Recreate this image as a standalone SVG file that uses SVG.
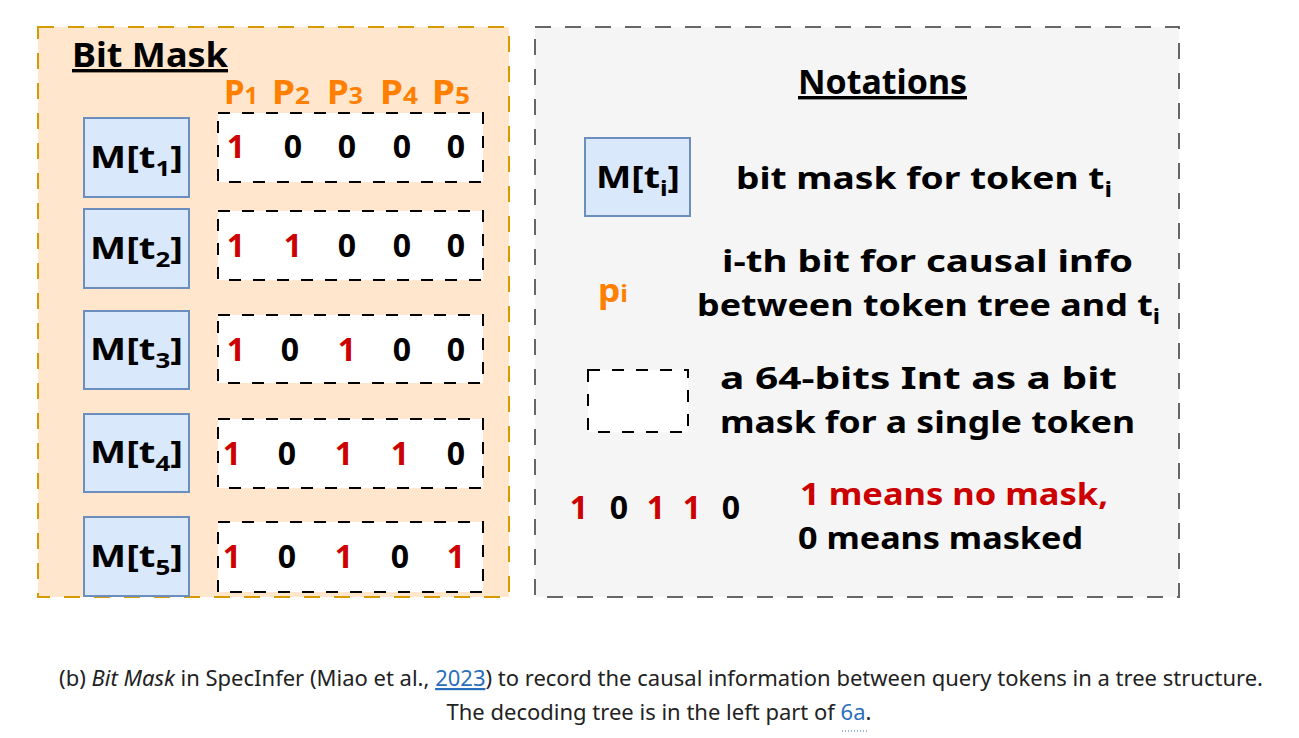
<svg xmlns="http://www.w3.org/2000/svg" width="1299" height="738" viewBox="0 0 1299 738">
<style>
.c{font-family:"Noto Sans","DejaVu Sans",sans-serif;font-weight:bold;}
.t{font-size:31px;fill:#000;}
.h{font-size:34px;fill:#000;}
.m{font-size:31px;fill:#000;}
.s{font-size:21px;}
.ps{font-size:24px;}
.r{fill:#cc0000;}
.o{fill:#ff8000;}
.bit{font-size:32px;text-anchor:middle;}
.mb{fill:#dae8fc;stroke:#6c8ebf;stroke-width:2;}
.db{fill:#fff;stroke:#000;stroke-width:2;stroke-dasharray:12 12;}
.cap{font-family:"Noto Sans","Open Sans",sans-serif;font-size:22px;fill:#222;}
</style>
<rect width="1299" height="738" fill="#fff"/>
<g id="bitmask-panel">
<rect x="38" y="27" width="471" height="570" fill="#ffe6cc" stroke="#d79b00" stroke-width="2" stroke-dasharray="16 14"/>
<text class="c h" x="72" y="67" textLength="156" lengthAdjust="spacingAndGlyphs" text-decoration="underline">Bit Mask</text>
<g class="c o" font-size="34">
<text x="224" y="104" textLength="34" lengthAdjust="spacingAndGlyphs">P<tspan class="ps">1</tspan></text>
<text x="272" y="104" textLength="38" lengthAdjust="spacingAndGlyphs">P<tspan class="ps">2</tspan></text>
<text x="327" y="104" textLength="36" lengthAdjust="spacingAndGlyphs">P<tspan class="ps">3</tspan></text>
<text x="380" y="104" textLength="38" lengthAdjust="spacingAndGlyphs">P<tspan class="ps">4</tspan></text>
<text x="432" y="104" textLength="38" lengthAdjust="spacingAndGlyphs">P<tspan class="ps">5</tspan></text>
</g>
</g>
<g id="row1">
<rect class="mb" x="84" y="118" width="105" height="79"/>
<text class="c m" x="90" y="168" textLength="93" lengthAdjust="spacingAndGlyphs">M[t<tspan class="s" dy="8">1</tspan><tspan dy="-8">]</tspan></text>
<rect class="db" x="218" y="113" width="265" height="69"/>
<g class="c bit"><text class="r" x="236" y="158">1</text><text x="293" y="158">0</text><text x="347" y="158">0</text><text x="402" y="158">0</text><text x="456" y="158">0</text></g>
</g>
<g id="row2">
<rect class="mb" x="84" y="209" width="105" height="79"/>
<text class="c m" x="90" y="259" textLength="93" lengthAdjust="spacingAndGlyphs">M[t<tspan class="s" dy="8">2</tspan><tspan dy="-8">]</tspan></text>
<rect class="db" x="218" y="211" width="265" height="69"/>
<g class="c bit"><text class="r" x="236" y="257">1</text><text class="r" x="293" y="257">1</text><text x="347" y="257">0</text><text x="402" y="257">0</text><text x="456" y="257">0</text></g>
</g>
<g id="row3">
<rect class="mb" x="84" y="311" width="105" height="78"/>
<text class="c m" x="90" y="360" textLength="93" lengthAdjust="spacingAndGlyphs">M[t<tspan class="s" dy="8">3</tspan><tspan dy="-8">]</tspan></text>
<rect class="db" x="218" y="315" width="265" height="68"/>
<g class="c bit"><text class="r" x="236" y="361">1</text><text x="290" y="361">0</text><text class="r" x="347" y="361">1</text><text x="402" y="361">0</text><text x="456" y="361">0</text></g>
</g>
<g id="row4">
<rect class="mb" x="84" y="414" width="105" height="78"/>
<text class="c m" x="90" y="463" textLength="93" lengthAdjust="spacingAndGlyphs">M[t<tspan class="s" dy="8">4</tspan><tspan dy="-8">]</tspan></text>
<rect class="db" x="218" y="419" width="265" height="69"/>
<g class="c bit"><text class="r" x="232" y="465">1</text><text x="287" y="465">0</text><text class="r" x="344" y="465">1</text><text class="r" x="400" y="465">1</text><text x="456" y="465">0</text></g>
</g>
<g id="row5">
<rect class="mb" x="84" y="517" width="105" height="79"/>
<text class="c m" x="90" y="567" textLength="93" lengthAdjust="spacingAndGlyphs">M[t<tspan class="s" dy="8">5</tspan><tspan dy="-8">]</tspan></text>
<rect class="db" x="218" y="522" width="265" height="70"/>
<g class="c bit"><text class="r" x="232" y="568">1</text><text x="287" y="568">0</text><text class="r" x="344" y="568">1</text><text x="400" y="568">0</text><text class="r" x="456" y="568">1</text></g>
</g>
<g id="notations-panel">
<rect x="535" y="27" width="644" height="570" fill="#f5f5f5" stroke="#666" stroke-width="2" stroke-dasharray="16 14"/>
<text class="c h" x="798" y="94" textLength="169" lengthAdjust="spacingAndGlyphs" text-decoration="underline">Notations</text>
</g>
<g id="legend-mask">
<rect class="mb" x="585" y="138" width="105" height="78"/>
<text class="c m" x="596" y="188" textLength="84" lengthAdjust="spacingAndGlyphs">M[t<tspan class="s" dy="8">i</tspan><tspan dy="-8">]</tspan></text>
<text class="c t" x="736" y="189" textLength="376" lengthAdjust="spacingAndGlyphs">bit mask for token t<tspan class="s" dy="8">i</tspan></text>
</g>
<g id="legend-bit">
<text class="c o" x="598" y="302" font-size="33" textLength="30" lengthAdjust="spacingAndGlyphs">p<tspan class="ps">i</tspan></text>
<text class="c t" x="722" y="272" textLength="411" lengthAdjust="spacingAndGlyphs">i-th bit for causal info</text>
<text class="c t" x="697" y="316" textLength="463" lengthAdjust="spacingAndGlyphs">between token tree and t<tspan class="s" dy="8">i</tspan></text>
</g>
<g id="legend-int">
<rect class="db" x="588" y="370" width="100" height="62"/>
<text class="c t" x="720" y="389" textLength="397" lengthAdjust="spacingAndGlyphs">a 64-bits Int as a bit</text>
<text class="c t" x="720" y="433" textLength="415" lengthAdjust="spacingAndGlyphs">mask for a single token</text>
</g>
<g id="legend-values">
<g class="c bit"><text class="r" x="579" y="519">1</text><text x="619" y="519">0</text><text class="r" x="656" y="519">1</text><text class="r" x="692" y="519">1</text><text x="731" y="519">0</text></g>
<text class="c t r" x="800" y="505" textLength="308" lengthAdjust="spacingAndGlyphs">1 means no mask,</text>
<text class="c t" x="798" y="549" textLength="285" lengthAdjust="spacingAndGlyphs">0 means masked</text>
</g>
<g id="caption">
<text class="cap" x="661" y="686" text-anchor="middle">(b) <tspan font-style="italic">Bit Mask</tspan> in SpecInfer (Miao et al., <tspan fill="#2a6ebb" text-decoration="underline">2023</tspan>) to record the causal information between query tokens in a tree structure.</text>
<text class="cap" x="659" y="720" text-anchor="middle">The decoding tree is in the left part of <tspan fill="#2a6ebb">6a</tspan>.</text>
<line x1="842" y1="731" x2="868" y2="731" stroke="#2a6ebb" stroke-width="1" stroke-dasharray="1 2"/>
</g>
</svg>
